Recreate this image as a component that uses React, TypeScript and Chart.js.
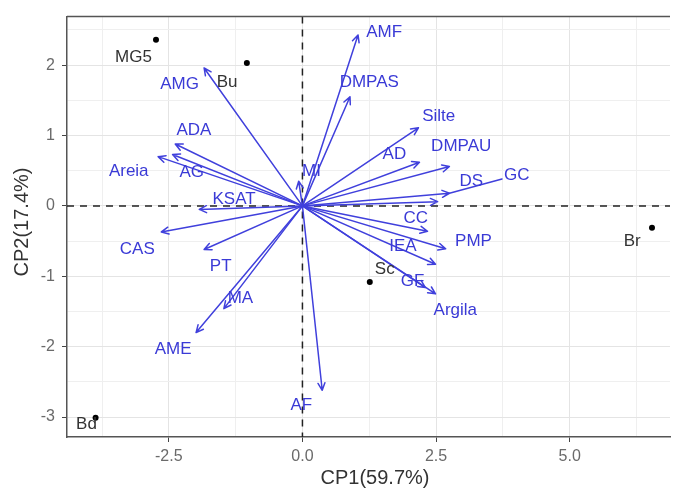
import { useEffect, useRef } from 'react';
import { Chart, registerables } from 'chart.js';
Chart.register(...registerables);

// Variable loadings (arrows) and their label positions (data units)
const variables = ['AMF', 'DMPAS', 'Silte', 'AD', 'DMPAU', 'GC', 'DS', 'CC', 'PMP', 'IEA', 'GF', 'Argila', 'AF', 'AME', 'MA', 'PT', 'CAS', 'KSAT', 'AG', 'Areia', 'ADA', 'AMG', 'MI'];
const loadingX = [1.04, 0.89, 2.17, 2.19, 2.75, 2.75, 2.53, 2.34, 2.68, 2.49, 2.30, 2.49, 0.37, -1.99, -1.47, -1.84, -2.64, -1.93, -2.43, -2.70, -2.38, -1.84, -0.07];
const loadingY = [2.43, 1.55, 1.11, 0.62, 0.56, 0.18, 0.06, -0.36, -0.61, -0.83, -1.16, -1.25, -2.62, -1.80, -1.46, -0.62, -0.37, -0.05, 0.73, 0.70, 0.88, 1.96, 0.35];
const varLabelX = [1.53, 1.25, 2.55, 1.72, 2.97, 4.01, 3.16, 2.12, 3.20, 1.88, 2.06, 2.86, -0.02, -2.42, -1.16, -1.53, -3.09, -1.28, -2.07, -3.25, -2.03, -2.30, 0.17];
const varLabelY = [2.46, 1.76, 1.28, 0.73, 0.84, 0.44, 0.35, -0.17, -0.51, -0.57, -1.07, -1.49, -2.83, -2.04, -1.32, -0.86, -0.61, 0.09, 0.48, 0.49, 1.08, 1.73, 0.49];
const segmentLabels = ['GC'];

// Site scores (points) and label positions
const sites = ['MG5', 'Bu', 'Br', 'Sc', 'Bd'];
const scoreX = [-2.74, -1.04, 6.54, 1.26, -3.87];
const scoreY = [2.36, 2.03, -0.31, -1.08, -3.01];
const siteLabelX = [-3.16, -1.41, 6.17, 1.54, -4.04];
const siteLabelY = [2.11, 1.76, -0.50, -0.90, -3.11];

// Axes
const X_MIN = -4.405;
const X_MAX = 6.877;
const Y_MIN = -3.284;
const Y_MAX = 2.69;
const xTicks = [-3.75, -2.5, -1.25, 0, 1.25, 2.5, 3.75, 5, 6.25];
const yTicks = [-3, -2.5, -2, -1.5, -1, -0.5, 0, 0.5, 1, 1.5, 2, 2.5];
const xTitle = 'CP1(59.7%)';
const yTitle = 'CP2(17.4%)';

const FONT = '"Liberation Sans", Arial, sans-serif';
const BLUE_LINE = '#4040dc';
const BLUE_TEXT = '#3a3ad6';

const isMajorX = (v: number) => Math.abs(v / 2.5 - Math.round(v / 2.5)) < 1e-6;
const isMajorY = (v: number) => Math.abs(v - Math.round(v)) < 1e-6;

function drawArrow(ctx: CanvasRenderingContext2D, x1: number, y1: number, x2: number, y2: number) {
  const ang = Math.atan2(y2 - y1, x2 - x1);
  const L = 8;
  const A = Math.PI / 7;
  ctx.beginPath();
  ctx.moveTo(x1, y1);
  ctx.lineTo(x2, y2);
  ctx.moveTo(x2 - L * Math.cos(ang - A), y2 - L * Math.sin(ang - A));
  ctx.lineTo(x2, y2);
  ctx.lineTo(x2 - L * Math.cos(ang + A), y2 - L * Math.sin(ang + A));
  ctx.stroke();
}

const biplotPlugin = {
  id: 'biplot',
  beforeDatasetsDraw(chart: any) {
    const { ctx, chartArea: a, scales } = chart;
    const x = scales.x, y = scales.y;
    ctx.save();
    ctx.strokeStyle = '#222';
    ctx.lineWidth = 1.5;
    ctx.setLineDash([7, 6]);
    const x0 = x.getPixelForValue(0);
    const y0 = y.getPixelForValue(0);
    ctx.beginPath();
    ctx.moveTo(a.left, y0);
    ctx.lineTo(a.right, y0);
    ctx.moveTo(x0, a.top);
    ctx.lineTo(x0, a.bottom);
    ctx.stroke();
    ctx.setLineDash([]);
    ctx.strokeStyle = '#555';
    ctx.lineWidth = 1.5;
    ctx.beginPath();
    ctx.moveTo(a.left, a.top);
    ctx.lineTo(a.right, a.top);
    ctx.stroke();
    ctx.restore();
  },
  afterDatasetsDraw(chart: any) {
    const { ctx, scales } = chart;
    const x = scales.x, y = scales.y;
    const ox = x.getPixelForValue(0);
    const oy = y.getPixelForValue(0);
    ctx.save();
    ctx.strokeStyle = BLUE_LINE;
    ctx.lineWidth = 1.5;
    ctx.lineJoin = 'round';
    ctx.lineCap = 'round';
    variables.forEach((_, i) => {
      drawArrow(ctx, ox, oy, x.getPixelForValue(loadingX[i]), y.getPixelForValue(loadingY[i]));
    });
    ctx.font = `17px ${FONT}`;
    ctx.textAlign = 'center';
    ctx.textBaseline = 'middle';
    ctx.fillStyle = BLUE_TEXT;
    variables.forEach((name, i) => {
      const lx = x.getPixelForValue(varLabelX[i]);
      const ly = y.getPixelForValue(varLabelY[i]);
      if (segmentLabels.includes(name)) {
        const tx = x.getPixelForValue(loadingX[i]);
        const ty = y.getPixelForValue(loadingY[i]);
        const hw = ctx.measureText(name).width / 2 + 2;
        const hh = 8;
        const dx = tx - lx, dy = ty - ly;
        const t = Math.min(hw / Math.abs(dx || 1e-9), hh / Math.abs(dy || 1e-9));
        ctx.beginPath();
        ctx.moveTo(lx + dx * t, ly + dy * t);
        ctx.lineTo(tx, ty);
        ctx.stroke();
      }
      ctx.fillText(name, lx, ly);
    });
    ctx.fillStyle = '#333';
    sites.forEach((name, i) => {
      ctx.fillText(name, x.getPixelForValue(siteLabelX[i]), y.getPixelForValue(siteLabelY[i]));
    });
    ctx.restore();
  },
  afterDraw(chart: any) {
    const { ctx } = chart;
    ctx.save();
    ctx.fillStyle = '#333';
    ctx.font = `20px ${FONT}`;
    ctx.textAlign = 'center';
    ctx.textBaseline = 'middle';
    ctx.fillText(xTitle, 375, 478);
    ctx.translate(22, 222);
    ctx.rotate(-Math.PI / 2);
    ctx.fillText(yTitle, 0, 0);
    ctx.restore();
  },
};

export default function App() {
  const ref = useRef<HTMLCanvasElement>(null);
  useEffect(() => {
    const points = sites.map((_, i) => ({ x: scoreX[i], y: scoreY[i] }));
    const chart = new Chart(ref.current as HTMLCanvasElement, {
      type: 'scatter',
      data: {
        datasets: [
          {
            data: points,
            pointRadius: 3,
            pointBackgroundColor: '#000',
            pointBorderWidth: 0,
          },
        ],
      },
      options: {
        animation: false,
        responsive: false,
        maintainAspectRatio: false,
        layout: { padding: { top: 14, left: 0, right: 0, bottom: 0 } },
        plugins: { legend: { display: false }, tooltip: { enabled: false } },
        scales: {
          x: {
            type: 'linear',
            min: X_MIN,
            max: X_MAX,
            afterBuildTicks: (s: any) => {
              s.ticks = xTicks.map((v) => ({ value: v }));
            },
            afterFit: (s: any) => {
              s.height = 51;
            },
            grid: {
              color: (c: any) => (isMajorX(c.tick.value) ? '#e4e4e4' : '#efefef'),
              tickColor: (c: any) => (isMajorX(c.tick.value) ? '#444' : 'rgba(0,0,0,0)'),
              tickLength: 5,
              lineWidth: 1,
            },
            border: { color: '#555', width: 1.5 },
            ticks: {
              autoSkip: false,
              maxRotation: 0,
              padding: 5,
              color: '#6a6a6a',
              font: { family: FONT, size: 16 },
              callback: (v: any) => (isMajorX(Number(v)) ? Number(v).toFixed(1) : ''),
            },
          },
          y: {
            type: 'linear',
            min: Y_MIN,
            max: Y_MAX,
            afterBuildTicks: (s: any) => {
              s.ticks = yTicks.map((v) => ({ value: v }));
            },
            afterFit: (s: any) => {
              s.width = 67;
            },
            grid: {
              color: (c: any) => (isMajorY(c.tick.value) ? '#e4e4e4' : '#efefef'),
              tickColor: (c: any) => (isMajorY(c.tick.value) ? '#444' : 'rgba(0,0,0,0)'),
              tickLength: 5,
              lineWidth: 1,
            },
            border: { color: '#555', width: 1.5 },
            ticks: {
              autoSkip: false,
              padding: 7,
              color: '#6a6a6a',
              font: { family: FONT, size: 16 },
              callback: (v: any) => (isMajorY(Number(v)) ? String(Math.round(Number(v))) : ''),
            },
          },
        },
      },
      plugins: [biplotPlugin],
    } as any);
    return () => chart.destroy();
  }, []);
  return (
    <canvas
      ref={ref}
      width={674}
      height={488}
      style={{ position: 'fixed', left: 0, top: 0, width: 674, height: 488 }}
    />
  );
}
